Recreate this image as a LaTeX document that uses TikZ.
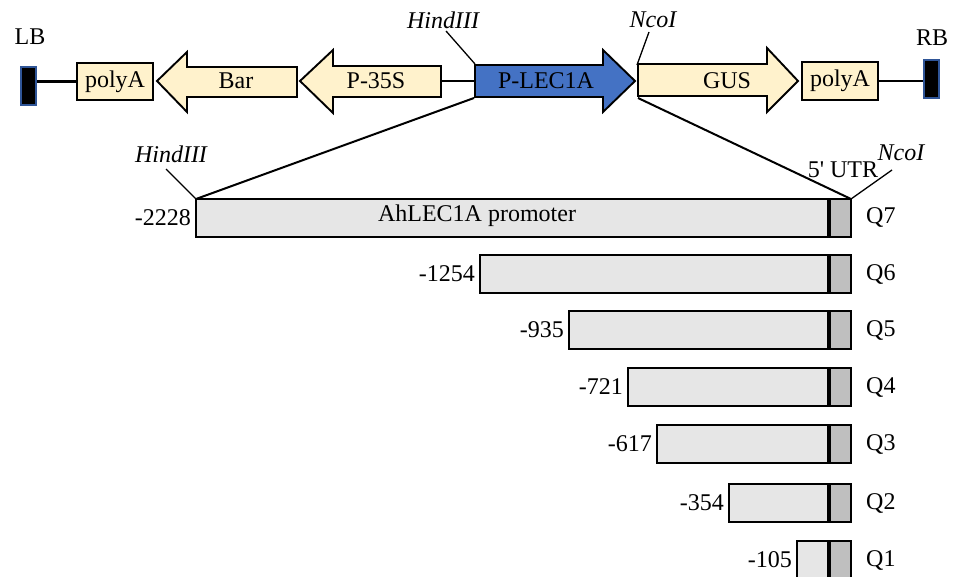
\documentclass[tikz,border=0pt]{standalone}
\usepackage{fontspec}
\setmainfont{Liberation Serif}
\newfontfamily\nomapfont{Liberation Serif}
\begin{document}
\begin{tikzpicture}[x=1pt,y=-1pt,
  outl/.style={draw=black,line width=1.9pt,line join=miter},
  cream/.style={outl,fill=creamc},
  bluef/.style={outl,fill=bluec},
  lbl/.style={font=\fontsize{24}{28}\selectfont,inner sep=0pt},
  ital/.style={font=\fontsize{24}{28}\selectfont\itshape,inner sep=0pt},
  backbone/.style={draw=black,line width=2.4pt},
  thinl/.style={draw=black,line width=1.3pt},
  expl/.style={draw=black,line width=2pt},
  barbox/.style={draw=black,line width=1.9pt,fill=barc},
  utr/.style={draw=black,line width=1.6pt,fill=utrc},
]
\definecolor{creamc}{HTML}{FFF2CC}
\definecolor{bluec}{HTML}{4472C4}
\definecolor{bordc}{HTML}{2F5597}
\definecolor{barc}{HTML}{E6E6E6}
\definecolor{utrc}{HTML}{BFBFBF}
\useasboundingbox (0,0) rectangle (958,577);
\clip (0,0) rectangle (958,577);

% border boxes
\node[draw=bordc,fill=black,line width=2.2pt,minimum width=15pt,minimum height=38pt,inner sep=0pt] (lb) at (28.5,86) {};
\node[draw=bordc,fill=black,line width=2.2pt,minimum width=15pt,minimum height=38pt,inner sep=0pt] (rb) at (931.5,79) {};
\node[lbl] (lbt) at (30,37) {LB};
\node[lbl] (rbt) at (932,38) {RB};

% polyA boxes
\node[cream,minimum width=76pt,minimum height=37pt,inner sep=0pt] (pa1) at (115,81.5) {};
\node[lbl] at (pa1.center) {polyA};
\node[cream,minimum width=76pt,minimum height=38pt,inner sep=0pt] (pa2) at (840,81) {};
\node[lbl] at (pa2.center) {polyA};

% Bar arrow (left)
\path[cream] (157,81) -- (187,52) -- (187,67) -- (297,67) -- (297,97) -- (187,97) -- (187,112) -- cycle;
\node[lbl] (bar) at (236,81) {Bar};
% P-35S arrow (left)
\path[cream] (300,81) -- (333,50) -- (333,66) -- (441,66) -- (441,97) -- (333,97) -- (333,113) -- cycle;
\coordinate (p35end) at (441,81);
\node[lbl] (p35) at (376,81) {P-35S};
% P-LEC1A arrow (right)
\path[bluef] (475,65) -- (603,65) -- (603,50) -- (635,81) -- (603,112) -- (603,97) -- (475,97) -- cycle;
\coordinate (lecstart) at (475,81);
\coordinate (lecbl) at (474,98);
\coordinate (lectl) at (475,64);
\node[lbl] (lec) at (546,81) {P-LEC1A};
% GUS arrow (right)
\path[cream] (638,64) -- (767,64) -- (767,48) -- (798,81) -- (767,112) -- (767,96) -- (638,96) -- cycle;
\coordinate (gusb) at (638,98);
\coordinate (gust) at (637,65);
\node[lbl] (gus) at (727,81) {GUS};

% backbone
\draw[backbone] (lb.east |- pa1.west) -- (pa1.west);
\draw[backbone] (p35end) -- (lecstart);
\draw[backbone] (pa2.east) -- (rb.west |- pa2.east);

% top site labels
\node[ital] (h1) at (443,20) {HindIII};
\node[ital] (n1) at (653,20) {NcoI};
\draw[thinl] (446,31) -- (lectl);
\draw[thinl] (649,32) -- (gust);

% promoter bars
\def\utrx{829}
\def\rx{851}
\foreach \n/\lx/\y/\num in {7/196/199/-2228,6/480/255/-1254,5/569/311/-935,4/628/368/-721,3/657/425/-617,2/729/484/-354,1/797/541/-105}{
  \path[barbox] (\lx,\y) rectangle (\rx,\y+38);
  \path[utr] (\utrx,\y) rectangle (\rx,\y+38);
  \draw[black,line width=3.2pt] (\utrx,\y) -- (\utrx,\y+38);
  \node[lbl,anchor=east] (num\n) at (\lx-5,\y+19) {\num};
  \node[lbl,anchor=west] (q\n) at (866,\y+19) {Q\n};
}
\coordinate (q7tl) at (196,199);
\coordinate (q7tr) at (851,199);
\node[lbl] (prom) at (477,216) {AhLEC1A promoter};

% expansion lines
\draw[expl] (lecbl) -- (q7tl);
\draw[expl] (gusb) -- (q7tr);

% lower site labels
\node[ital] (h2) at (171,154) {HindIII};
\draw[thinl] (166,169) -- (q7tl);
\node[lbl] (utrt) at (843,170) {\nomapfont 5' UTR};
\node[ital] (n2) at (901,153) {NcoI};
\draw[thinl] (892,170) -- (q7tr);
\end{tikzpicture}
\end{document}
